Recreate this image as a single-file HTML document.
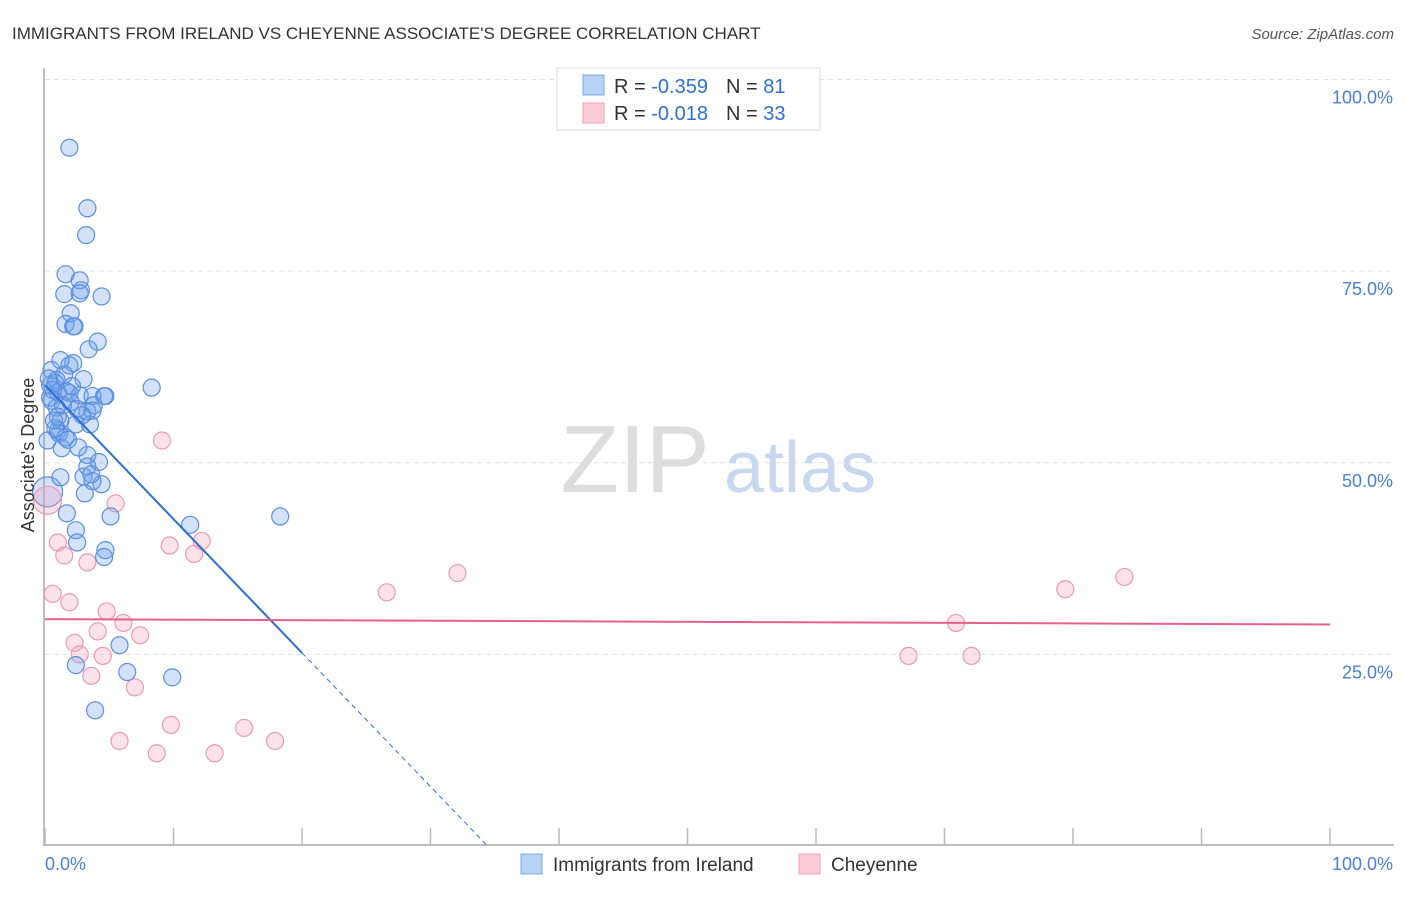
<!DOCTYPE html>
<html><head><meta charset="utf-8"><style>
body{margin:0;background:#fff;font-family:"Liberation Sans",sans-serif;}
svg text{font-family:"Liberation Sans",sans-serif;}
</style></head><body>
<svg id="chart" width="1406" height="892" xmlns="http://www.w3.org/2000/svg">
<text x="12" y="39" font-size="17" fill="#333">IMMIGRANTS FROM IRELAND VS CHEYENNE ASSOCIATE'S DEGREE CORRELATION CHART</text>
<text x="1394" y="39" font-size="15" fill="#555" font-style="italic" text-anchor="end">Source: ZipAtlas.com</text>
<g id="grid"></g>
<text x="635" y="492" font-size="96" fill="#ddd" font-family="Liberation Serif" text-anchor="middle">ZIP</text>
<text x="800" y="492" font-size="72" fill="#c8d8f0" text-anchor="middle">atlas</text>
<g id="axes"></g>
<g id="pts"></g>
<g id="trend"></g>
<text transform="translate(34,455) rotate(-90)" font-size="18" fill="#333" text-anchor="middle">Associate's Degree</text>
<g>
<rect x="557" y="68" width="263" height="62" fill="#fff" stroke="#ddd"/>
<rect x="583" y="75" width="21" height="20" fill="#b8d2f5" stroke="#7aa8e8"/>
<rect x="583" y="103" width="21" height="20" fill="#fbcbd8" stroke="#f0a0b8"/>
<text x="614" y="93" font-size="20" fill="#333">R = <tspan fill="#2f6fd6">-0.359</tspan><tspan dx="18">N = </tspan><tspan fill="#2f6fd6"> 81</tspan></text>
<text x="614" y="120" font-size="20" fill="#333">R = <tspan fill="#2f6fd6">-0.018</tspan><tspan dx="18">N = </tspan><tspan fill="#2f6fd6">33</tspan></text>
</g>
<g>
<rect x="521" y="854" width="21" height="20" fill="#b8d2f5" stroke="#7aa8e8"/>
<text x="553" y="871" font-size="19" fill="#333">Immigrants from Ireland</text>
<rect x="799" y="854" width="21" height="20" fill="#fbcbd8" stroke="#f0a0b8"/>
<text x="831" y="871" font-size="19" fill="#333">Cheyenne</text>
</g>
</svg>
<script>
const blueX=[1.9,3.3,3.2,1.6,2.7,1.5,2.8,2.7,4.4,2.0,1.6,2.2,2.3,4.1,3.4,2.2,1.9,3.0,8.3,0.5,0.9,0.4,0.8,1.0,1.7,1.9,2.7,3.7,4.7,4.6,0.5,0.9,1.4,3.8,3.3,3.7,2.4,3.5,1.0,1.1,1.6,0.2,3.3,3.3,4.2,3.0,1.2,3.7,4.4,3.1,1.7,5.1,2.4,4.7,2.5,4.6,11.3,18.3,5.8,2.4,6.4,9.9,3.9,1.3,2.0,2.9,1.2,1.2,0.3,0.6,1.5,2.5,0.8,1.8,3.6,2.1,0.4,1.0,2.6,0.7];
const blueY=[91.1,83.2,79.7,74.6,73.8,72.0,72.5,72.1,71.7,69.5,68.1,67.8,67.8,65.8,64.8,63.0,62.7,60.9,59.8,62.1,60.8,60.1,60.4,59.2,59.3,59.1,58.8,58.7,58.7,58.7,58.1,57.2,57.5,57.5,56.7,56.8,55.0,55.0,54.2,53.8,53.3,52.9,51.0,49.5,50.1,48.2,48.1,47.6,47.2,46.0,43.4,43.0,41.2,38.6,39.6,37.7,41.9,43.0,26.2,23.6,22.7,22.0,17.7,51.9,57.9,56.2,55.5,63.4,61.0,59.5,61.5,57.0,54.5,53.0,48.5,60.0,58.5,56.0,52.0,55.5];
const pinkX=[9.1,5.5,1.0,1.5,3.3,9.7,11.6,12.2,26.6,32.1,0.6,1.9,4.8,6.1,7.4,4.1,2.3,2.7,4.5,3.6,7.0,9.8,5.8,8.7,13.2,15.5,17.9,67.2,72.1,70.9,79.4,84.0];
const pinkY=[52.9,44.7,39.6,37.9,37.0,39.2,38.1,39.8,33.1,35.6,32.9,31.8,30.6,29.1,27.5,28.0,26.5,25.0,24.8,22.2,20.7,15.8,13.7,12.1,12.1,15.4,13.7,24.8,24.8,29.1,33.5,35.1];
const bigBlue=[0.2,46.2];
const bigPink=[0.2,45.1];
const yTicks=[25,50,75,100];
const yTickLabels=["25.0%","50.0%","75.0%","100.0%"];
const xTicks=[0,10,20,30,40,50,60,70,80,90,100];
const blueTrend=[60.1,-1.745];
const pinkTrend=[29.6,-0.007];
const X0=45,X1=1330,Y0=846,Y1=79.5;
const sx=v=>X0+(X1-X0)*v/100, sy=v=>Y0-(Y0-Y1)*v/100;
const NS="http://www.w3.org/2000/svg";
function mk(t,a,p){const e=document.createElementNS(NS,t);for(const k in a)e.setAttribute(k,a[k]);p.appendChild(e);return e;}
const grid=document.getElementById('grid'),axes=document.getElementById('axes'),pts=document.getElementById('pts'),tr=document.getElementById('trend');
yTicks.forEach((v,i)=>{
 const l=mk('line',{x1:X0,x2:1394,y1:sy(v),y2:sy(v),stroke:'#e2e2e2','stroke-dasharray':'5,4'},grid);
 
 
 const t=mk('text',{x:1393,y:sy(v)+24,'font-size':18,fill:'#4a7fd4','text-anchor':'end'},axes);
 t.textContent=yTickLabels[i];
 
 
});
mk('line',{x1:44,x2:44,y1:68,y2:846,stroke:'#aaa','stroke-width':1.5},axes);
mk('line',{x1:44,x2:1394,y1:845,y2:845,stroke:'#aaa','stroke-width':1.5},axes);
xTicks.forEach(v=>{const l=mk('line',{x1:sx(v),x2:sx(v),y1:828,y2:845,stroke:'#bbb','stroke-width':1.5},axes);
 
 });
const xl0=mk('text',{x:45,y:870,'font-size':18,fill:'#4a7fd4'},axes);xl0.textContent='0.0%';


const xl1=mk('text',{x:1393,y:870,'font-size':18,fill:'#4a7fd4','text-anchor':'end'},axes);xl1.textContent='100.0%';


function dot(x,y,r,f,s,name){const c=mk('circle',{cx:sx(x),cy:sy(y),r:r,fill:f,stroke:s,'stroke-width':1.2},pts);
 
 }
const bf='rgba(110,160,235,0.3)',bs='#5b8fde',pf='rgba(245,160,190,0.3)',ps='#eb9ab4';
dot(bigBlue[0],bigBlue[1],15,bf,bs,'ireland-point-large');
dot(bigPink[0],bigPink[1],14,pf,ps,'cheyenne-point-large');
pinkX.forEach((x,i)=>dot(x,pinkY[i],8.5,pf,ps,'cheyenne-point'));
blueX.forEach((x,i)=>dot(x,blueY[i],8.5,bf,bs,'ireland-point'));
const bt=x=>blueTrend[0]+blueTrend[1]*x;
let l=mk('line',{x1:sx(0),y1:sy(bt(0)),x2:sx(20),y2:sy(bt(20)),stroke:'#2a6fd6','stroke-width':2},tr);


const xe=(blueTrend[0]+0.2)/-blueTrend[1];
l=mk('line',{x1:sx(20),y1:sy(bt(20)),x2:sx(xe),y2:sy(bt(xe)),stroke:'#2a6fd6','stroke-width':1,'stroke-dasharray':'5,4'},tr);


const pt=x=>pinkTrend[0]+pinkTrend[1]*x;
l=mk('line',{x1:sx(0),y1:sy(pt(0)),x2:sx(100),y2:sy(pt(100)),stroke:'#e8608a','stroke-width':2},tr);


</script>
</body></html>
